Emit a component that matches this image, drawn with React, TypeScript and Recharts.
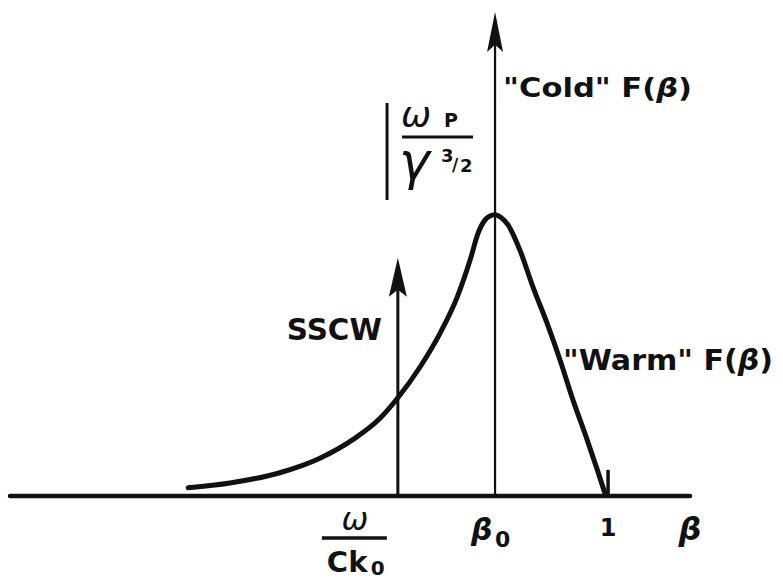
import { LineChart, Line, XAxis, YAxis, ReferenceLine } from "recharts";

// beta (arbitrary units, beta_0 = 0.8, 1 = cutoff) and the "warm" distribution F(beta)
const betaPts = [0.257, 0.331, 0.419, 0.49, 0.549, 0.596, 0.628, 0.667, 0.703, 0.733, 0.756, 0.77, 0.782, 0.79, 0.8, 0.81, 0.823, 0.844, 0.867, 0.892, 0.915, 0.938, 0.963, 0.981, 0.996];
const warmF = [0.017, 0.027, 0.048, 0.078, 0.117, 0.16, 0.203, 0.266, 0.337, 0.411, 0.488, 0.543, 0.57, 0.578, 0.581, 0.576, 0.56, 0.508, 0.432, 0.357, 0.281, 0.198, 0.116, 0.054, 0];

const BETA_0 = 0.8;
const SSCW_BETA = 0.628; // omega / (c k_0)
const SSCW_HEIGHT = 0.492;
const CUTOFF = 1.0;
const CUTOFF_TICK = 0.054;
const xDomain = [-0.0584, 1.145];
const tickValues = [SSCW_BETA, BETA_0, CUTOFF, 1.145];

const data = betaPts.map((b, i) => ({ beta: b, f: warmF[i] }));

const FONT = "'DejaVu Sans', sans-serif";
const INK = "#111";

function arrowHead(x: number, top: number, len: number, half: number) {
    return `M${x},${top} L${x + half},${top + len} L${x},${top + len * 0.82} L${x - half},${top + len} Z`;
}

function ColdArrow(p: any) {
    const x = p.x1;
    const top = Math.min(p.y1, p.y2);
    const bottom = Math.max(p.y1, p.y2);
    return (
        <g fontFamily={FONT} fill={INK}>
            <line x1={x} y1={bottom} x2={x} y2={top + 30} stroke={INK} strokeWidth={2.2} />
            <path d={arrowHead(x, top, 40, 8)} fill={INK} />
            <text x={x + 8} y={top + 85} fontSize={27} fontWeight="bold" textLength={189} lengthAdjust="spacingAndGlyphs">
                "Cold" F(<tspan fontStyle="italic">β</tspan>)
            </text>
            <text x={x + 68} y={bottom - 126} fontSize={28} fontWeight="bold" textLength={210} lengthAdjust="spacingAndGlyphs">
                "Warm" F(<tspan fontStyle="italic">β</tspan>)
            </text>
            {/* omega_p / gamma^(3/2) height marker */}
            <line x1={x - 108} y1={top + 91} x2={x - 108} y2={top + 188} stroke={INK} strokeWidth={3} />
            <text x={x - 94} y={top + 115} fontSize={36} fontStyle="italic">ω</text>
            <text x={x - 51} y={top + 115} fontSize={19} fontWeight="bold">P</text>
            <line x1={x - 93} y1={top + 125} x2={x - 22} y2={top + 125} stroke={INK} strokeWidth={3} />
            <text x={x - 96} y={top + 167} fontSize={52} fontStyle="italic">γ</text>
            <text x={x - 54} y={top + 150} fontSize={18} fontWeight="bold">3</text>
            <text x={x - 43} y={top + 159} fontSize={17} fontWeight="bold">/</text>
            <text x={x - 35} y={top + 160} fontSize={18} fontWeight="bold">2</text>
        </g>
    );
}

function SscwArrow(p: any) {
    const x = p.x1;
    const top = Math.min(p.y1, p.y2);
    const bottom = Math.max(p.y1, p.y2);
    return (
        <g fontFamily={FONT} fill={INK}>
            <line x1={x} y1={bottom} x2={x} y2={top + 30} stroke={INK} strokeWidth={3} />
            <path d={arrowHead(x, top, 39, 9)} fill={INK} />
            <text x={x - 111} y={top + 82} fontSize={30} fontWeight="bold" textLength={95} lengthAdjust="spacingAndGlyphs">
                SSCW
            </text>
        </g>
    );
}

function BetaTick(p: any) {
    const x = p.x;
    const y = p.y;
    const v = p.payload.value;
    const common = { fontFamily: FONT, fill: INK };
    if (v === SSCW_BETA) {
        return (
            <g {...common}>
                <text x={x - 43} y={y + 34} fontSize={32} fontStyle="italic" textAnchor="middle">ω</text>
                <line x1={x - 76} y1={y + 42} x2={x - 11} y2={y + 42} stroke={INK} strokeWidth={3.5} />
                <text x={x - 71} y={y + 76} fontSize={29} fontWeight="bold">Ck</text>
                <text x={x - 27} y={y + 79} fontSize={20} fontWeight="bold">0</text>
            </g>
        );
    }
    if (v === BETA_0) {
        return (
            <g {...common}>
                <text x={x - 24} y={y + 44} fontSize={30} fontStyle="italic" fontWeight="bold">β</text>
                <text x={x} y={y + 51} fontSize={22} fontWeight="bold">0</text>
            </g>
        );
    }
    if (v === CUTOFF) {
        return (
            <text x={x} y={y + 40} fontSize={24} fontWeight="bold" textAnchor="middle" {...common}>1</text>
        );
    }
    return (
        <text x={x} y={y + 44} fontSize={32} fontStyle="italic" fontWeight="bold" textAnchor="middle" {...common}>β</text>
    );
}

export default function App() {
    return (
        <div style={{ position: "absolute", left: 0, top: 0, background: "#fff" }}>
            <LineChart width={783} height={582} data={data} margin={{ top: 12, right: 93, bottom: 0, left: 10 }}>
                <XAxis
                    dataKey="beta"
                    type="number"
                    domain={xDomain}
                    allowDataOverflow
                    ticks={tickValues}
                    interval={0}
                    axisLine={false}
                    tickLine={false}
                    tickSize={0}
                    tickMargin={0}
                    height={86}
                    tick={<BetaTick />}
                />
                <YAxis type="number" domain={[0, 1]} hide allowDataOverflow />
                <ReferenceLine y={0} stroke={INK} strokeWidth={4.5} strokeLinecap="round" />
                <ReferenceLine
                    segment={[{ x: BETA_0, y: 0 }, { x: BETA_0, y: 1 }]}
                    shape={ColdArrow}
                />
                <ReferenceLine
                    segment={[{ x: SSCW_BETA, y: 0 }, { x: SSCW_BETA, y: SSCW_HEIGHT }]}
                    shape={SscwArrow}
                />
                <ReferenceLine
                    segment={[{ x: CUTOFF, y: 0 }, { x: CUTOFF, y: CUTOFF_TICK }]}
                    stroke={INK}
                    strokeWidth={3.5}
                />
                <Line
                    type="monotone"
                    dataKey="f"
                    stroke={INK}
                    strokeWidth={5}
                    strokeLinecap="round"
                    dot={false}
                    activeDot={false}
                    isAnimationActive={false}
                />
            </LineChart>
        </div>
    );
}
